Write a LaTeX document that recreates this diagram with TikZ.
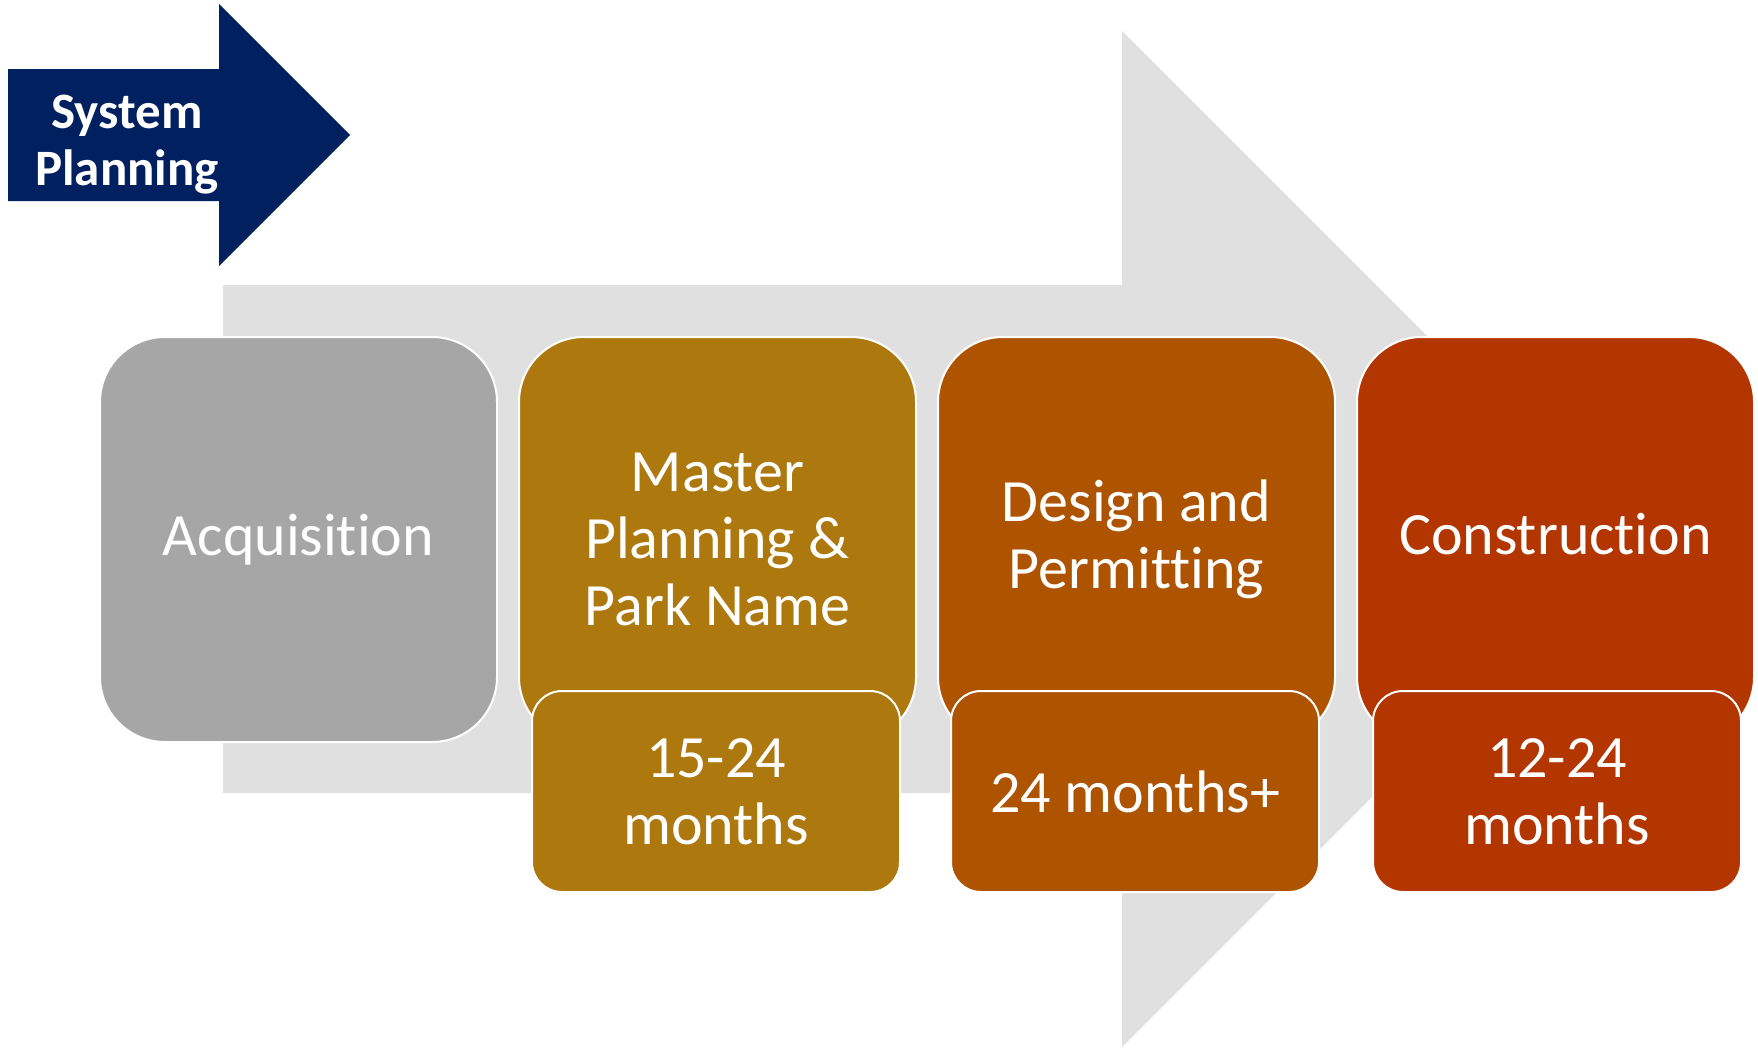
\documentclass[tikz,border=0pt]{standalone}
\usepackage{fontspec}
\setmainfont[Ligatures={NoCommon,NoRare}]{Carlito}
\usepackage{tikz}

\definecolor{flowgrey}{HTML}{E0E0E0}
\definecolor{sysblue}{HTML}{002060}
\definecolor{acqgrey}{HTML}{A6A6A6}
\definecolor{mastergold}{HTML}{AD780E}
\definecolor{designorange}{HTML}{AE5300}
\definecolor{buildred}{HTML}{B33500}

\begin{document}
\begin{tikzpicture}[x=1pt, y=-1pt,
    phase/.style={draw=white, line width=2pt, rounded corners=65pt, minimum width=397pt, minimum height=405pt, align=center, text=white, font=\fontsize{60}{67}\selectfont},
    span/.style={draw=white, line width=2pt, rounded corners=30pt, minimum width=368pt, minimum height=201pt, align=center, text=white, font=\fontsize{60}{67}\selectfont}]%
    \useasboundingbox (0, 0) rectangle (1758, 1047);

    % big grey arrow behind the phases
    \fill[flowgrey] (223, 285) -- (1122, 285) -- (1122, 31) -- (1630, 539) -- (1122, 1047) -- (1122, 793) -- (223, 793) -- cycle;
    \fill[sysblue] (8, 69) -- (219, 69) -- (219, 4) -- (350, 135) -- (219, 266) -- (219, 201) -- (8, 201) -- cycle;
    \node[align=center, text=white, font=\fontsize{51}{57}\selectfont\bfseries] (sys) at (127, 145) {System\\Planning};

    \node[phase, fill=acqgrey] (acq) at (298.5, 539.5) {Acquisition};
    \node[phase, fill=mastergold] (mp) at (717.5, 539.5) {Master\\Planning \&\\Park Name};
    \node[phase, fill=designorange] (dp) at (1136.5, 539.5) {Design and\\Permitting};
    \node[phase, fill=buildred, text depth=12pt] (con) at (1555.5, 539.5) {Construction};

    \node[span, fill=mastergold] (mpt) at (716, 791.5) {15-24\\months};
    \node[span, fill=designorange] (dpt) at (1135, 791.5) {24 months+};
    \node[span, fill=buildred] (cont) at (1557, 791.5) {12-24\\months};
\end{tikzpicture}
\end{document}
